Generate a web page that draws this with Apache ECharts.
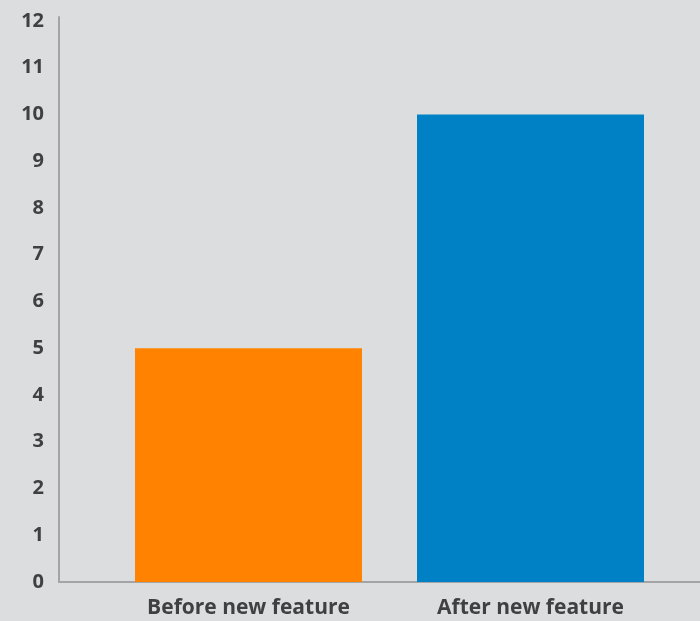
<!DOCTYPE html>
<html><head><meta charset="utf-8">
<script src="https://cdn.jsdelivr.net/npm/echarts@6/dist/echarts.min.js"></script>
<style>html,body{margin:0;padding:0;background:#dcdddf;}#c{width:700px;height:621px;}</style>
</head><body><div id="c"></div>
<script>
const categories = ['Before new feature', 'After new feature'];
const values = [5, 10];
const barColors = ['#ff8200', '#0081c6'];
const yTicks = [0,1,2,3,4,5,6,7,8,9,10,11,12];

const chart = echarts.init(document.getElementById('c'));
const font = '"Open Sans", sans-serif';
chart.setOption({
  backgroundColor: '#dcdddf',
  animation: false,
  grid: [
    {left: 59, right: 0, top: 17, bottom: 39},
    {left: 107.5, right: 28.5, top: 21, bottom: 39}
  ],
  xAxis: [
    {gridIndex: 0, type: 'category', data: [''], axisLine: {lineStyle: {color: '#a3a4a6', width: 2}}, axisTick: {show: false}, axisLabel: {show: false}},
    {gridIndex: 1, type: 'category', data: categories, axisLine: {show: false}, axisTick: {show: false},
     axisLabel: {color: '#404042', fontSize: 21, fontWeight: 'bold', fontFamily: font, margin: 16}}
  ],
  yAxis: [
    {gridIndex: 0, type: 'value', min: 0, max: 1, axisLine: {show: true, lineStyle: {color: '#a3a4a6', width: 2}},
     axisTick: {show: false}, splitLine: {show: false}, axisLabel: {show: false}},
    {gridIndex: 1, type: 'value', min: yTicks[0], max: yTicks[yTicks.length-1], interval: 1,
     offset: 48.5, axisLine: {show: false}, axisTick: {show: false}, splitLine: {show: false},
     axisLabel: {color: '#404042', fontSize: 20, fontWeight: 'bold', fontFamily: font, margin: 15}}
  ],
  series: [{
    type: 'bar', xAxisIndex: 1, yAxisIndex: 1, barWidth: 227,
    data: values.map((v, i) => ({value: v, itemStyle: {color: barColors[i]}}))
  }]
});
</script></body></html>
